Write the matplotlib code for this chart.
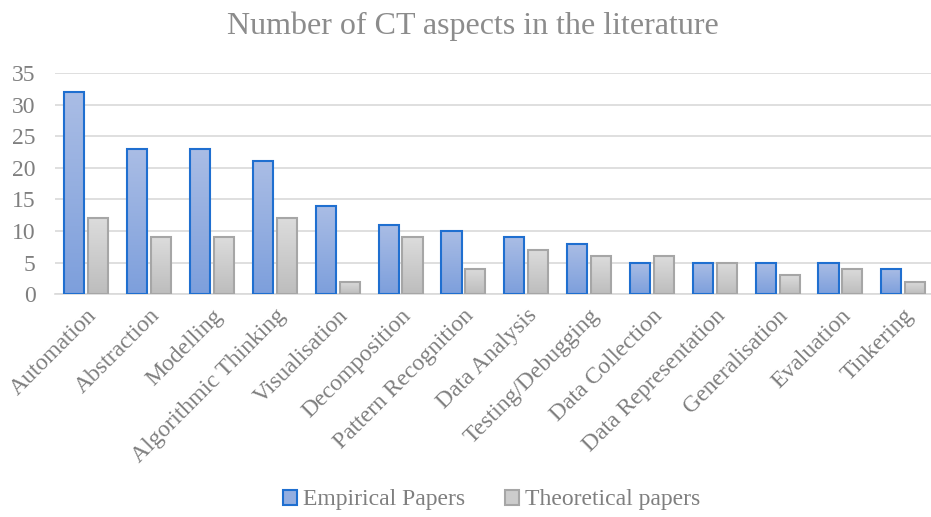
import matplotlib
matplotlib.use("Agg")
import matplotlib.pyplot as plt
import numpy as np
from matplotlib.colors import LinearSegmentedColormap
from matplotlib.patches import Patch

categories = ['Automation', 'Abstraction', 'Modelling', 'Algorithmic Thinking',
              'Visualisation', 'Decomposition', 'Pattern Recognition',
              'Data Analysis', 'Testing/Debugging', 'Data Collection',
              'Data Representation', 'Generalisation', 'Evaluation', 'Tinkering']
empirical = [32, 23, 23, 21, 14, 11, 10, 9, 8, 5, 5, 5, 5, 4]
theoretical = [12, 9, 9, 12, 2, 9, 4, 7, 6, 6, 5, 3, 4, 2]

plt.rcParams['font.family'] = ['Liberation Serif', 'DejaVu Serif']
text_gray = '#7f7f7f'

fig = plt.figure(figsize=(9.31, 5.17), dpi=100)
ax = fig.add_axes([0.059, 0.431, 0.945, 0.428])

x = np.arange(len(categories))
w = 0.32
off = 0.19

blue_cmap = LinearSegmentedColormap.from_list('b', ['#7d9fdc', '#aabde5'])
gray_cmap = LinearSegmentedColormap.from_list('g', ['#bdbdbd', '#dcdcdc'])

b1 = ax.bar(x - off, empirical, w, facecolor='none', edgecolor='#1f6fd0', linewidth=1.5, zorder=3)
b2 = ax.bar(x + off, theoretical, w, facecolor='none', edgecolor='#a6a6a6', linewidth=1.5, zorder=3)

grad = np.linspace(0, 1, 256).reshape(-1, 1)
for bars, cmap in ((b1, blue_cmap), (b2, gray_cmap)):
    for bar in bars:
        x0, y0 = bar.get_x(), bar.get_y()
        bw, bh = bar.get_width(), bar.get_height()
        im = ax.imshow(grad, cmap=cmap, origin='lower', aspect='auto',
                       extent=(x0, x0 + bw, y0, y0 + bh), zorder=2)
        im.set_clip_path(bar)

ax.set_xlim(-0.5, len(categories) - 0.5)
ax.set_ylim(0, 35)
ax.set_yticks(range(0, 36, 5))
ax.yaxis.grid(True, color='#d9d9d9', linewidth=1.2, zorder=0)
ax.set_axisbelow(True)
for s in ['top', 'right', 'left']:
    ax.spines[s].set_visible(False)
ax.spines['bottom'].set_color('#d9d9d9')
ax.spines['bottom'].set_linewidth(1.2)
ax.tick_params(axis='both', length=0, colors=text_gray, labelsize=17)
ax.tick_params(axis='y', pad=14)
ax.tick_params(axis='x', pad=8)
ax.set_xticks(x)
ax.set_xticklabels(categories, rotation=45, ha='right', va='top',
                   rotation_mode='anchor', fontsize=17)

fig.text(0.508, 0.95, 'Number of CT aspects in the literature', ha='center', va='center',
         fontsize=23, color='#8c8c8c')

handles = [Patch(facecolor='#94aee0', edgecolor='#1f6fd0', linewidth=1.5, label='Empirical Papers'),
           Patch(facecolor='#cccccc', edgecolor='#a6a6a6', linewidth=1.5, label='Theoretical papers')]
leg = fig.legend(handles=handles, loc='center', bbox_to_anchor=(0.528, 0.033), ncol=2,
                 frameon=False, fontsize=17, handlelength=0.6, handleheight=0.6,
                 handletextpad=0.25, columnspacing=1.7)
for t in leg.get_texts():
    t.set_color(text_gray)

fig.savefig('out.png', dpi=100)
